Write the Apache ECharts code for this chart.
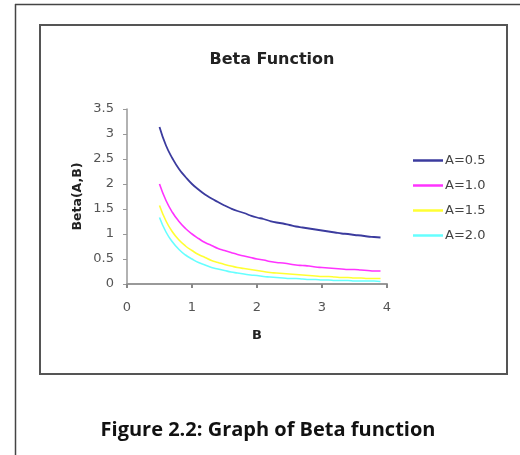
<!DOCTYPE html>
<html><head><meta charset="utf-8">
<script src="https://cdn.jsdelivr.net/npm/echarts@6/dist/echarts.min.js"></script>
<style>html,body{margin:0;padding:0;background:#fff}#c{width:520px;height:455px}</style>
</head><body><div id="c"></div>
<script>
const bValues = [0.5,0.6,0.7,0.8,0.9,1.0,1.1,1.2,1.3,1.4,1.5,1.6,1.7,1.8,1.9,2.0,2.1,2.2,2.3,2.4,2.5,2.6,2.7,2.8,2.9,3.0,3.1,3.2,3.3,3.4,3.5,3.6,3.7,3.8,3.9];
const seriesNames = ['A=0.5','A=1.0','A=1.5','A=2.0'];
const betaA05 = [3.14,2.77,2.51,2.30,2.14,2.00,1.89,1.79,1.71,1.64,1.57,1.51,1.46,1.42,1.37,1.33,1.30,1.26,1.23,1.21,1.18,1.15,1.13,1.11,1.09,1.07,1.05,1.03,1.01,1.00,0.98,0.97,0.95,0.94,0.93];
const betaA10 = [2.00,1.67,1.43,1.25,1.11,1.00,0.91,0.83,0.77,0.71,0.67,0.63,0.59,0.56,0.53,0.50,0.48,0.45,0.43,0.42,0.40,0.38,0.37,0.36,0.34,0.33,0.32,0.31,0.30,0.29,0.29,0.28,0.27,0.26,0.26];
const betaA15 = [1.57,1.26,1.04,0.88,0.76,0.67,0.59,0.53,0.47,0.43,0.39,0.36,0.33,0.31,0.29,0.27,0.25,0.23,0.22,0.21,0.20,0.19,0.18,0.17,0.16,0.15,0.15,0.14,0.13,0.13,0.12,0.12,0.11,0.11,0.11];
const betaA20 = [1.33,1.04,0.84,0.69,0.58,0.50,0.43,0.38,0.33,0.30,0.27,0.24,0.22,0.20,0.18,0.17,0.15,0.14,0.13,0.12,0.11,0.11,0.10,0.09,0.09,0.08,0.08,0.07,0.07,0.07,0.06,0.06,0.06,0.06,0.05];
const xTicks = [0,1,2,3,4];
const colors = ['#3b3b9e','#ff33ff','#ffff33','#66ffff'];

const allData = [betaA05,betaA10,betaA15,betaA20];
const chart = echarts.init(document.getElementById('c'));
const font = '"DejaVu Sans", Verdana, sans-serif';
chart.setOption({
  animation:false,
  backgroundColor:'#fff',
  title:{text:'Beta Function',left:272,top:52,textAlign:'center',padding:0,
    textStyle:{fontFamily:font,fontSize:16,fontWeight:'bold',color:'#222'}},
  grid:{left:127,right:133,top:109,bottom:171},
  legend:{orient:'vertical',left:413,top:153,padding:0,itemWidth:30,itemHeight:2.5,itemGap:10,
    icon:'rect',
    data:seriesNames,
    textStyle:{fontFamily:font,fontSize:13,color:'#444',padding:[0,0,0,-3],lineHeight:15}},
  xAxis:{type:'value',min:0,max:4,interval:1,name:'B',nameLocation:'middle',nameGap:45,
    nameTextStyle:{fontFamily:font,fontSize:13,fontWeight:'bold',color:'#222'},
    axisLine:{lineStyle:{color:'#999',width:2}},
    axisTick:{show:true,length:4,inside:false,lineStyle:{color:'#888',width:2}},
    axisLabel:{fontFamily:font,fontSize:13,color:'#555',margin:17,formatter:v=>String(xTicks[v]!==undefined?xTicks[v]:v)},
    splitLine:{show:false}},
  yAxis:{type:'value',min:0,max:3.5,interval:0.5,name:'Beta(A,B)',nameLocation:'middle',nameGap:43,
    nameTextStyle:{fontFamily:font,fontSize:12.5,fontWeight:'bold',color:'#222'},
    axisLine:{show:true,lineStyle:{color:'#999',width:1.5}},
    axisTick:{show:true,length:4,lineStyle:{color:'#999'}},
    axisLabel:{fontFamily:font,fontSize:13,color:'#555',margin:13},
    splitLine:{show:false}},
  series:seriesNames.map((n,i)=>({
    name:n,type:'line',symbol:'none',smooth:true,
    data:bValues.map((b,j)=>[b,allData[i][j]]),
    lineStyle:{color:colors[i],width:i===0?1.8:1.6},
    itemStyle:{color:colors[i]}
  })),
  graphic:[
    {type:'line',shape:{x1:15,y1:4.5,x2:520,y2:4.5},style:{stroke:'#444',lineWidth:1.5}},
    {type:'line',shape:{x1:15.5,y1:4,x2:15.5,y2:455},style:{stroke:'#444',lineWidth:1.5}},
    {type:'rect',shape:{x:40,y:25,width:467,height:349},style:{fill:'none',stroke:'#555',lineWidth:2}},
    {type:'text',x:268,y:430,style:{text:'Figure 2.2: Graph of Beta function',align:'center',verticalAlign:'middle',
      font:'bold 20px "Open Sans", sans-serif',fill:'#111'}}
  ]
});
</script></body></html>
